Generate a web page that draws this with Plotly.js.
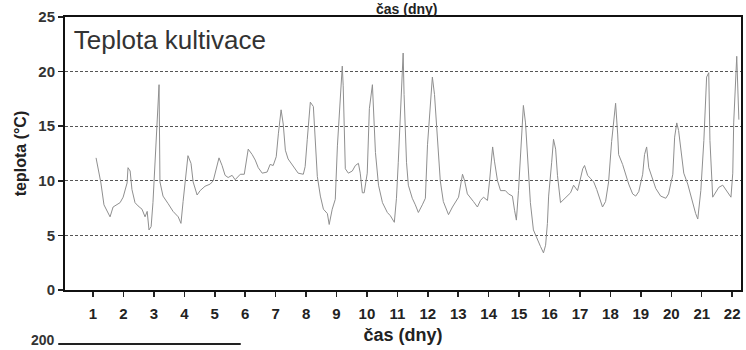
<!DOCTYPE html>
<html>
<head>
<meta charset="utf-8">
<script src="https://cdn.plot.ly/plotly-3.0.1.min.js"></script>
<style>
html,body{margin:0;padding:0;background:#fff;}
#chart{width:746px;height:350px;}
</style>
</head>
<body>
<div id="chart"></div>
<script>
// time in days
var days = [1.10,1.26,1.36,1.56,1.66,1.79,1.89,1.99,2.12,2.15,2.22,2.28,2.38,2.48,2.61,2.71,2.78,2.84,2.91,2.97,
3.04,3.11,3.17,3.20,3.30,3.47,3.63,3.80,3.89,3.96,4.03,4.09,4.12,4.22,4.29,4.42,4.52,4.68,4.85,4.95,
5.08,5.14,5.24,5.34,5.44,5.57,5.67,5.84,5.97,6.03,6.10,6.23,6.33,6.43,6.56,6.72,6.82,6.92,7.02,7.09,
7.18,7.25,7.32,7.41,7.58,7.74,7.91,7.97,8.04,8.14,8.24,8.30,8.37,8.47,8.57,8.70,8.76,8.86,8.96,9.03,
9.13,9.19,9.22,9.29,9.39,9.52,9.62,9.72,9.78,9.85,9.91,10.01,10.08,10.18,10.22,10.28,10.38,10.51,10.67,10.77,
10.90,10.97,11.03,11.13,11.19,11.22,11.30,11.36,11.49,11.59,11.69,11.82,11.92,11.99,12.09,12.15,12.22,12.32,12.41,12.51,
12.68,12.81,12.91,13.01,13.14,13.21,13.30,13.40,13.50,13.63,13.73,13.83,13.96,14.03,14.09,14.13,14.19,14.29,14.39,14.55,
14.65,14.78,14.85,14.91,14.98,15.05,15.11,15.14,15.21,15.28,15.37,15.47,15.60,15.70,15.80,15.87,15.93,15.97,16.07,16.13,
16.20,16.26,16.36,16.46,16.59,16.69,16.79,16.92,16.99,17.09,17.15,17.25,17.35,17.45,17.55,17.61,17.74,17.84,17.94,18.04,
18.10,18.17,18.24,18.27,18.40,18.50,18.60,18.73,18.83,18.93,19.06,19.12,19.19,19.26,19.39,19.49,19.65,19.82,19.91,20.05,
20.11,20.18,20.24,20.34,20.41,20.54,20.64,20.70,20.80,20.87,20.97,21.07,21.16,21.23,21.27,21.36,21.46,21.56,21.69,21.79,
21.89,21.96,22.02,22.05,22.15,22.22];

// cultivation temperature, °C
var teplota = [12.1,9.8,7.8,6.7,7.6,7.8,8.0,8.5,9.8,11.2,10.9,9.2,8.0,7.7,7.4,6.7,7.2,5.5,5.8,8.0,
12.0,14.8,18.8,9.9,8.6,7.9,7.2,6.7,6.1,8.1,10.2,11.6,12.3,11.6,9.9,8.7,9.1,9.5,9.7,10.0,
11.4,12.1,11.4,10.5,10.3,10.5,10.1,10.6,10.6,11.9,12.9,12.4,11.9,11.2,10.7,10.8,11.5,11.4,12.2,14.3,
16.5,15.2,12.8,12.0,11.3,10.7,10.6,11.3,13.8,17.2,16.8,13.8,10.4,8.6,7.4,7.0,6.0,7.4,8.3,13.2,
17.8,20.5,18.7,11.1,10.7,10.9,11.4,11.6,10.7,8.9,8.9,10.7,16.6,18.8,16.3,12.6,9.6,8.0,7.1,6.8,
6.2,8.4,11.7,18.5,21.7,17.9,11.7,9.6,8.4,7.8,7.1,7.8,8.4,13.3,17.0,19.5,17.9,13.3,10.0,8.1,
6.9,7.6,8.1,8.5,10.6,10.0,8.8,8.5,8.1,7.6,8.2,8.5,8.2,10.0,12.2,13.1,11.8,10.0,9.1,9.1,
8.8,8.6,7.3,6.4,9.1,12.3,15.6,16.9,15.3,12.3,8.0,5.5,4.6,4.0,3.4,4.1,6.1,8.6,11.7,13.8,
12.9,10.5,8.0,8.3,8.6,8.9,9.6,9.1,9.9,11.1,11.4,10.5,10.2,9.9,9.2,8.7,7.6,8.1,9.9,13.6,
15.1,17.1,14.2,12.4,11.5,10.6,9.7,8.8,8.6,9.0,10.6,12.4,13.1,11.2,10.0,9.3,8.6,8.4,8.8,10.6,
14.0,15.3,14.6,12.1,10.7,9.7,8.6,7.9,7.0,6.5,9.1,13.7,19.5,19.9,13.7,8.5,8.9,9.4,9.6,9.2,
8.9,8.5,10.7,15.3,21.4,15.6];

var xTicks = [1,2,3,4,5,6,7,8,9,10,11,12,13,14,15,16,17,18,19,20,21,22];
var yTicks = [0,5,10,15,20,25];

var FONT = 'Liberation Sans, Arial, sans-serif';

var trace = {
  x: days,
  y: teplota,
  type: 'scatter',
  mode: 'lines',
  name: 'Teplota kultivace',
  line: {color: '#8f8f8f', width: 1},
  hoverinfo: 'x+y',
  showlegend: false
};

var layout = {
  width: 746,
  height: 350,
  margin: {l: 65, r: 5, t: 17, b: 60, pad: 0},
  paper_bgcolor: '#ffffff',
  plot_bgcolor: '#ffffff',
  font: {family: FONT, color: '#222'},
  title: {
    text: 'Teplota kultivace',
    font: {family: FONT, size: 26, color: '#333'},
    xref: 'paper', yref: 'paper',
    x: 0.013, xanchor: 'left',
    y: 0.915, yanchor: 'middle'
  },
  xaxis: {
    range: [0.08, 22.29],
    tickmode: 'array',
    tickvals: xTicks,
    ticktext: xTicks.map(String),
    ticks: 'outside', ticklen: 5, tickwidth: 1.5, tickcolor: '#222',
    ticklabelstandoff: 4,
    tickfont: {family: FONT, size: 15, color: '#222', weight: 'bold'},
    showline: true, linecolor: '#111', linewidth: 2, mirror: true,
    showgrid: false, zeroline: false,
    title: {text: 'čas (dny)', font: {family: FONT, size: 18, color: '#222', weight: 'bold'}, standoff: 7}
  },
  yaxis: {
    range: [0, 25],
    tickmode: 'array',
    tickvals: yTicks,
    ticktext: yTicks.map(String),
    ticks: 'outside', ticklen: 5, tickwidth: 1.5, tickcolor: '#222',
    tickfont: {family: FONT, size: 15, color: '#333', weight: 'bold'},
    showline: true, linecolor: '#111', linewidth: 2, mirror: true,
    showgrid: true, gridcolor: '#555', gridwidth: 1, griddash: '3px,2px',
    zeroline: false,
    title: {text: 'teplota (°C)', font: {family: FONT, size: 16, color: '#222', weight: 'bold'}, standoff: 8}
  },
  annotations: [
    {text: 'čas (dny)', xref: 'paper', yref: 'paper', x: 0.505, y: 1.064,
     xanchor: 'center', yanchor: 'top', showarrow: false, borderpad: 0,
     font: {family: FONT, size: 14, color: '#222', weight: 'bold'}},
    {text: '200', xref: 'paper', yref: 'paper', x: -0.012, y: -0.22,
     xanchor: 'right', yanchor: 'bottom', showarrow: false,
     font: {family: FONT, size: 14, color: '#333', weight: 'bold'}}
  ],
  shapes: [
    {type: 'line', xref: 'paper', yref: 'paper', x0: -0.01, x1: 0.26, y0: -0.198, y1: -0.198,
     line: {color: '#222', width: 2}}
  ]
};

Plotly.newPlot('chart', [trace], layout, {displayModeBar: false, staticPlot: true});
</script>
</body>
</html>
